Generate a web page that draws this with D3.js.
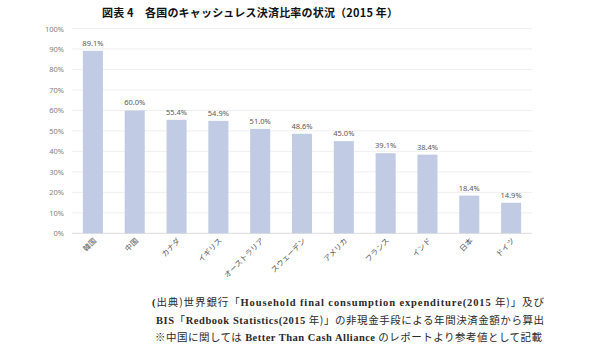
<!DOCTYPE html>
<html>
<head>
<meta charset="utf-8">
<script src="https://cdn.jsdelivr.net/npm/d3@7"></script>
<style>
  body { margin: 0; background: #fff; }
  svg { display: block; }
</style>
</head>
<body>
<svg id="chart" width="600" height="361"></svg>
<script>
// データ
const countries = ["韓国", "中国", "カナダ", "イギリス", "オーストラリア", "スウェーデン", "アメリカ", "フランス", "インド", "日本", "ドイツ"];
const ratios = [89.1, 60.0, 55.4, 54.9, 51.0, 48.6, 45.0, 39.1, 38.4, 18.4, 14.9];
const yTicks = [0, 10, 20, 30, 40, 50, 60, 70, 80, 90, 100];
const titleText = "図表 4　各国のキャッシュレス決済比率の状況（2015 年）";
const notes = [
  "(出典)世界銀行「Household final consumption expenditure(2015 年)」及び",
  "BIS「Redbook Statistics(2015 年)」の非現金手段による年間決済金額から算出",
  "※中国に関しては Better Than Cash Alliance のレポートより参考値として記載"
];

const svg = d3.select("#chart");
const plotLeft = 72, plotRight = 532, plotTop = 28.5, plotBottom = 233.3;

const x = d3.scaleBand().domain(countries).range([plotLeft, plotRight]).paddingInner(0.52).paddingOuter(0.26);
const y = d3.scaleLinear().domain([0, 100]).range([plotBottom, plotTop]);

// タイトル
svg.append("text")
  .attr("x", 102).attr("y", 16.5)
  .attr("textLength", 296)
  .attr("lengthAdjust", "spacing")
  .attr("font-family", "'Noto Sans CJK JP', sans-serif")
  .attr("font-weight", "bold")
  .attr("font-size", 11)
  .attr("fill", "#111")
  .text(titleText);

// グリッド線
svg.append("g")
  .selectAll("line")
  .data(yTicks)
  .join("line")
  .attr("x1", plotLeft).attr("x2", plotRight)
  .attr("y1", d => y(d)).attr("y2", d => y(d))
  .attr("stroke", d => d === 0 ? "#dcdcdc" : "#efefef")
  .attr("stroke-width", 1);

// Y軸ラベル
svg.append("g")
  .selectAll("text")
  .data(yTicks)
  .join("text")
  .attr("x", 64).attr("y", d => y(d) + 3)
  .attr("text-anchor", "end")
  .attr("font-family", "'Noto Sans', sans-serif")
  .attr("font-size", 7.5)
  .attr("fill", "#7f7f7f")
  .text(d => d + "%");

// 棒
svg.append("g")
  .selectAll("rect")
  .data(countries)
  .join("rect")
  .attr("x", d => x(d))
  .attr("width", x.bandwidth())
  .attr("y", (d, i) => y(ratios[i]))
  .attr("height", (d, i) => y(0) - y(ratios[i]))
  .attr("fill", "#c1cce4");

// 値ラベル
svg.append("g")
  .selectAll("text")
  .data(countries)
  .join("text")
  .attr("x", d => x(d) + x.bandwidth() / 2)
  .attr("y", (d, i) => y(ratios[i]) - 5)
  .attr("text-anchor", "middle")
  .attr("font-family", "'Noto Sans', sans-serif")
  .attr("font-size", 7.5)
  .attr("fill", "#595959")
  .text((d, i) => ratios[i].toFixed(1) + "%");

// X軸ラベル（斜め）
svg.append("g")
  .selectAll("text")
  .data(countries)
  .join("text")
  .attr("transform", d => `translate(${x(d) + x.bandwidth() / 2 + 4},${plotBottom + 8}) rotate(-45)`)
  .attr("text-anchor", "end")
  .attr("font-family", "'Noto Sans CJK JP', sans-serif")
  .attr("font-size", 7.5)
  .attr("fill", "#595959")
  .text(d => d);

// 出典（英数字部分だけ太めのセリフ）
const noteX = [152, 156, 155];
const noteW = [392, 388, 387];
const noteLines = svg.append("g")
  .selectAll("text")
  .data(notes)
  .join("text")
  .attr("x", (d, i) => noteX[i])
  .attr("y", (d, i) => 306 + i * 17.5)
  .attr("textLength", (d, i) => noteW[i])
  .attr("lengthAdjust", "spacing")
  .attr("font-size", 10.5)
  .attr("fill", "#2a2a2a");

noteLines.selectAll("tspan")
  .data(d => d.match(/[A-Za-z0-9().]+(?: [A-Za-z0-9().]+)*|[^A-Za-z0-9().]+/g))
  .join("tspan")
  .attr("font-family", d => /^[A-Za-z0-9(]/.test(d) ? "'Liberation Serif', serif" : "'Noto Sans CJK JP', sans-serif")
  .attr("font-weight", d => /^[A-Za-z0-9(]/.test(d) ? "bold" : "normal")
  .text(d => d);
</script>
</body>
</html>
